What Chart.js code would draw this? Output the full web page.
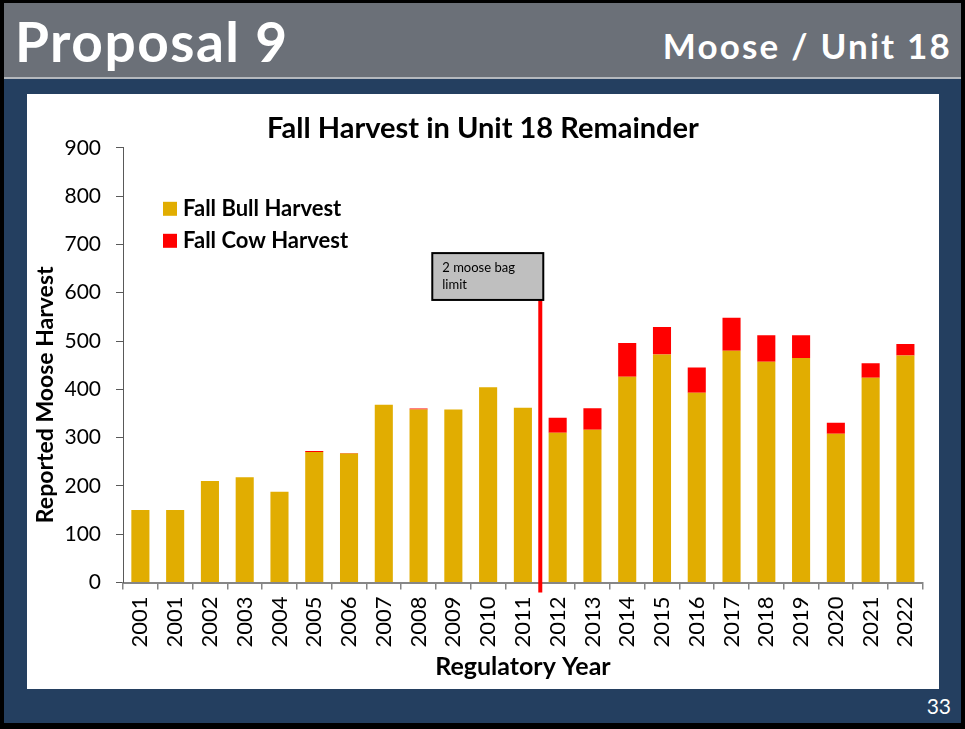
<!DOCTYPE html>
<html>
<head>
<meta charset="utf-8">
<script src="https://cdn.jsdelivr.net/npm/chart.js@4.4.0/dist/chart.umd.min.js"></script>
<style>
    body{
        margin: 0;
        width: 965px;
        height: 729px;
        background: #000;
        position: relative;
        overflow: hidden;
        font-family: "Lato", sans-serif;
    }
    #slide{
        position: absolute;
        left: 4px;
        top: 3px;
        width: 957px;
        height: 720px;
        background: #243f60;
    }
    #header{
        position: absolute;
        left: 0;
        top: 0;
        width: 957px;
        height: 74px;
        background: #6b7078;
        border-bottom: 2px solid #b4b8bd;
    }
    #leftTitle{
        position: absolute;
        left: 11px;
        top: 11px;
        color: #fff;
        font-weight: bold;
        font-size: 55px;
        line-height: 55px;
        letter-spacing: 1.5px;
        white-space: nowrap;
    }
    #rightTitle{
        position: absolute;
        right: 9px;
        top: 25px;
        color: #fff;
        font-weight: bold;
        font-size: 35px;
        line-height: 35px;
        letter-spacing: 2.2px;
        white-space: nowrap;
    }
    #panel{
        position: absolute;
        left: 23px;
        top: 91px;
        width: 912px;
        height: 595px;
        background: #fff;
    }
    #pageNum{
        position: absolute;
        right: 10px;
        top: 692px;
        color: #fff;
        font-size: 21px;
        line-height: 21px;
    }
</style>
</head>
<body>
<div id="slide">
    <div id="header">
        <div id="leftTitle">Proposal 9</div>
        <div id="rightTitle">Moose / Unit 18</div>
    </div>
    <div id="panel">
        <canvas id="harvestChart" width="912" height="595"></canvas>
    </div>
    <div id="pageNum">33</div>
</div>

<script>
const years = ["2001","2001","2002","2003","2004","2005","2006","2007","2008","2009","2010","2011",
               "2012","2013","2014","2015","2016","2017","2018","2019","2020","2021","2022"];
const bullHarvest = [150,150,210,218,188,270,267,368,358,358,404,362,
                     310,316,426,472,393,480,457,465,308,424,470];
const cowHarvest = [0,0,0,0,0,2,1,0,2,0,0,0,
                    31,45,70,57,52,68,55,47,23,30,24];
const seriesNames = ["Fall Bull Harvest","Fall Cow Harvest"];
const seriesColors = ["#e1ad01","#ff0000"];

// bag limit marker sits between 2011 and 2012
const bagLimitAt = 11.5;
const bagLimitText = ["2 moose bag","limit"];

Chart.defaults.font.family = "Lato";
Chart.defaults.color = "#000";

const markerPlugin = {
    id: "markerPlugin",
    afterDraw(chart){
        const ctx = chart.ctx;
        const xs = chart.scales.x;
        const ys = chart.scales.y;
        const area = chart.chartArea;

        // red line + label box
        const lx = xs.getPixelForValue(bagLimitAt);
        const boxTop = ys.getPixelForValue(682);
        const boxBottom = ys.getPixelForValue(585);
        ctx.save();
        ctx.strokeStyle = "#ff0000";
        ctx.lineWidth = 4;
        ctx.beginPath();
        ctx.moveTo(lx, boxBottom);
        ctx.lineTo(lx, area.bottom + 10);
        ctx.stroke();

        const boxRight = lx + 3;
        const boxLeft = boxRight - 111;
        ctx.fillStyle = "#bfbfbf";
        ctx.fillRect(boxLeft, boxTop, boxRight - boxLeft, boxBottom - boxTop);
        ctx.strokeStyle = "#000";
        ctx.lineWidth = 2;
        ctx.strokeRect(boxLeft, boxTop, boxRight - boxLeft, boxBottom - boxTop);
        ctx.fillStyle = "#000";
        ctx.font = "13px Lato";
        ctx.textBaseline = "middle";
        ctx.textAlign = "left";
        ctx.fillText(bagLimitText[0], boxLeft + 10, boxTop + 15);
        ctx.fillText(bagLimitText[1], boxLeft + 10, boxTop + 32);

        // legend
        ctx.font = "bold 22px Lato";
        seriesNames.forEach((name, i) =>{
            const top = area.top + 54 + i * 32;
            ctx.fillStyle = seriesColors[i];
            ctx.fillRect(area.left + 40, top, 14, 14);
            ctx.fillStyle = "#000";
            ctx.fillText(name, area.left + 60, top + 7);
        });

        // y axis title, sits a bit below the middle like the original
        ctx.translate(19, area.top + 151 + 96);
        ctx.rotate(-Math.PI / 2);
        ctx.font = "bold 23px Lato";
        ctx.textAlign = "center";
        ctx.fillText("Reported Moose Harvest", 0, 0);
        ctx.restore();
    }
};

new Chart("harvestChart", {
    type: "bar",
    data: {
        labels: years,
        datasets: [
            {
                label: seriesNames[0],
                backgroundColor: seriesColors[0],
                data: bullHarvest
            },
            {
                label: seriesNames[1],
                backgroundColor: seriesColors[1],
                data: cowHarvest
            }
        ]
    },
    options: {
        responsive: false,
        animation: false,
        events: [],
        layout: {
            padding: {left: 9, right: 9, top: 0, bottom: 0}
        },
        datasets: {
            bar: {
                barPercentage: 0.52,
                categoryPercentage: 1
            }
        },
        scales: {
            x: {
                stacked: true,
                afterFit: scale => { scale.height = 106.5; },
                border: {display: true, color: "#868686", width: 2},
                grid: {drawOnChartArea: false, drawTicks: true, tickLength: 7, color: "#868686", lineWidth: 1.5},
                ticks: {
                    autoSkip: false,
                    minRotation: 90,
                    maxRotation: 90,
                    padding: 7,
                    font: {size: 22}
                },
                title: {
                    display: true,
                    text: "Regulatory Year",
                    font: {size: 25, weight: "bold"},
                    padding: {top: 0, bottom: 7}
                }
            },
            y: {
                stacked: true,
                min: 0,
                max: 900,
                afterFit: scale => { scale.width = 87; },
                border: {display: true, color: "#595959", width: 1},
                grid: {drawOnChartArea: false, drawTicks: true, tickLength: 7, color: "#595959"},
                ticks: {
                    stepSize: 100,
                    padding: 15,
                    font: {size: 21}
                }
            }
        },
        plugins: {
            legend: {display: false},
            tooltip: {enabled: false},
            title: {
                display: true,
                text: "Fall Harvest in Unit 18 Remainder",
                font: {size: 29, weight: "bold"},
                color: "#000",
                padding: {top: 17, bottom: 2}
            }
        }
    },
    plugins: [markerPlugin]
});
</script>
</body>
</html>
